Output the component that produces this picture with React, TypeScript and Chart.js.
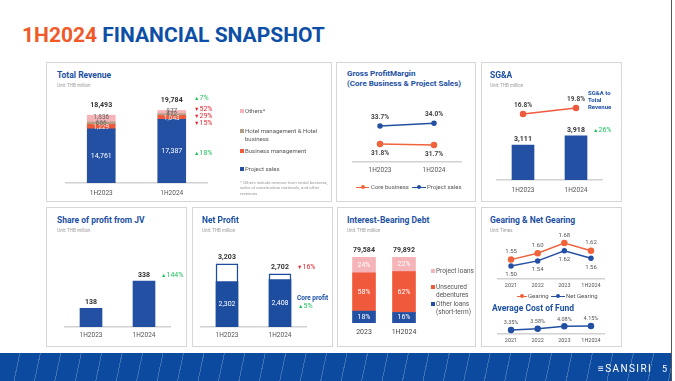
import React, { useEffect, useRef } from "react";
import { Chart, registerables } from "chart.js";

Chart.register(...registerables);

// ---------------- DATA ----------------
const halfYears = ["1H2023", "1H2024"];
const revProject = [14761, 17387];
const revBizMgmt = [1229, 1043];
const revHotel = [666, 472];
const revOthers = [1836, 877];
const revTotal = [18493, 19784];
const revChangeText = ["7%", "52%", "29%", "15%", "18%"];
const revChangeUp = [true, false, false, false, true];

const gpmCore = [31.8, 31.7];
const gpmProject = [33.7, 34.0];

const sgaValues = [3111, 3918];
const sgaRatio = [16.8, 19.8];
const sgaChange = "26%";

const jvProfit = [138, 338];
const jvChange = "144%";

const netProfit = [3203, 2702];
const coreProfit = [2302, 2408];
const netChange = "16%";
const coreChange = "5%";

const debtPeriods = ["2023", "1H2024"];
const debtTotal = [79584, 79892];
const debtOther = [18, 16];
const debtUnsecured = [58, 62];
const debtProject = [24, 22];

const gearYears = ["2021", "2022", "2023", "1H2024"];
const gearing = [1.55, 1.6, 1.68, 1.62];
const netGearing = [1.5, 1.54, 1.62, 1.56];
const costOfFund = [3.35, 3.58, 4.08, 4.15];

// ---------------- STYLE ----------------
const FONT = "Roboto, 'Noto Sans', Arial, sans-serif";
const BLUE = "#2350a3";
const DBLUE = "#1d4d9f";
const NAVY = "#1c50a2";
const ORANGE = "#f05a3c";
const PINK = "#f5b4b8";
const TAN = "#b3a084";
const GREEN = "#22c25e";
const RED = "#e3252c";
const AXIS = "#d2d2d2";

const fmt = (v: number) => v.toLocaleString("en-US");
const pct1 = (v: number) => v.toFixed(1) + "%";
const pct2 = (v: number) => v.toFixed(2) + "%";

type Box = { l: number; t: number; w: number; h: number };
type LabelSpec = {
  ds: number;
  texts: string[];
  pos: "center" | "top";
  dy: number;
  color: string;
  size: number;
  bold?: boolean;
};

function labelPlugin(specs: LabelSpec[]) {
  return {
    id: "vlabels",
    afterDatasetsDraw(chart: any) {
      const ctx = chart.ctx;
      ctx.save();
      ctx.textAlign = "center";
      ctx.textBaseline = "middle";
      for (const s of specs) {
        const meta = chart.getDatasetMeta(s.ds);
        meta.data.forEach((el: any, i: number) => {
          const y = s.pos === "center" ? (el.y + el.base) / 2 : el.y;
          ctx.font = `${s.bold ? "bold " : ""}${s.size}px ${FONT}`;
          ctx.fillStyle = s.color;
          ctx.fillText(s.texts[i], el.x, y + s.dy);
        });
      }
      ctx.restore();
    },
  };
}

function xScale(o: { pad: number; h: number; line?: boolean; size?: number; color?: string; stacked?: boolean }) {
  return {
    type: "category",
    stacked: !!o.stacked,
    offset: true,
    grid: { display: false, drawTicks: false },
    border: { display: o.line !== false, color: AXIS, width: 1.5 },
    ticks: {
      font: { family: FONT, size: o.size ?? 6.5 },
      color: o.color ?? "#555",
      padding: o.pad,
      maxRotation: 0,
      autoSkip: false,
    },
    afterFit: (s: any) => {
      s.height = o.h;
    },
  };
}

function baseOpts(padding: any, scales: any) {
  return {
    responsive: false,
    animation: false,
    events: [],
    layout: { padding },
    plugins: { legend: { display: false }, tooltip: { enabled: false } },
    scales,
  };
}

function ChartCanvas({ box, config }: { box: Box; config: () => any }) {
  const ref = useRef<HTMLCanvasElement | null>(null);
  useEffect(() => {
    const chart = new Chart(ref.current as HTMLCanvasElement, config());
    return () => chart.destroy();
  }, []);
  return (
    <canvas
      ref={ref}
      width={box.w}
      height={box.h}
      style={{ position: "absolute", left: box.l, top: box.t, width: box.w, height: box.h }}
    />
  );
}

// ---------------- CHART CONFIGS ----------------
const revenueConfig = () => ({
  type: "bar",
  data: {
    labels: halfYears,
    datasets: [
      { label: "Project sales", data: revProject, backgroundColor: BLUE, barThickness: 28 },
      { label: "Business management", data: revBizMgmt, backgroundColor: ORANGE, barThickness: 28 },
      { label: "Hotel management & Hotel business", data: revHotel, backgroundColor: TAN, barThickness: 28 },
      { label: "Others*", data: revOthers, backgroundColor: PINK, barThickness: 28 },
    ],
  },
  options: baseOpts(
    { left: 20, right: 9, top: 33, bottom: 0 },
    {
      x: xScale({ pad: 6, h: 19, stacked: true }),
      y: { display: false, stacked: true, min: 0, max: 24000 },
    }
  ),
  plugins: [
    labelPlugin([
      { ds: 0, texts: revProject.map(fmt), pos: "center", dy: 0, color: "#ffffff", size: 7 },
      { ds: 1, texts: revBizMgmt.map(fmt), pos: "center", dy: 1, color: "#eeeeee", size: 6.5 },
      { ds: 2, texts: revHotel.map(fmt), pos: "center", dy: 0, color: "#666666", size: 6.5 },
      { ds: 3, texts: revOthers.map(fmt), pos: "center", dy: -1, color: "#666666", size: 6.5 },
      { ds: 3, texts: revTotal.map(fmt), pos: "top", dy: -10, color: "#333333", size: 7, bold: true },
    ]),
  ],
});

const gpmConfig = () => ({
  type: "line",
  data: {
    labels: halfYears,
    datasets: [
      {
        label: "Core business",
        data: gpmCore,
        borderColor: "#f0643c",
        backgroundColor: "#f0643c",
        borderWidth: 1.5,
        pointRadius: 2.5,
      },
      {
        label: "Project sales",
        data: gpmProject,
        borderColor: BLUE,
        backgroundColor: BLUE,
        borderWidth: 1.5,
        pointRadius: 2,
      },
    ],
  },
  options: baseOpts(
    { left: 17, right: 15, top: 38, bottom: 0 },
    {
      x: xScale({ pad: 4, h: 16 }),
      y: { display: false, min: 29.9, max: 36.45 },
    }
  ),
  plugins: [
    labelPlugin([
      { ds: 0, texts: gpmCore.map(pct1), pos: "top", dy: 9, color: "#444", size: 6.5, bold: true },
      { ds: 1, texts: gpmProject.map(pct1), pos: "top", dy: -9, color: "#444", size: 6.5, bold: true },
    ]),
  ],
});

const sgaConfig = () => ({
  type: "bar",
  data: {
    labels: halfYears,
    datasets: [
      {
        type: "line",
        label: "SG&A to Total Revenue",
        data: sgaRatio,
        yAxisID: "y1",
        borderColor: ORANGE,
        backgroundColor: ORANGE,
        borderWidth: 1.5,
        pointRadius: 2.5,
      },
      { label: "SG&A", data: sgaValues, yAxisID: "y", backgroundColor: BLUE, barThickness: 22 },
    ],
  },
  options: baseOpts(
    { left: 15.5, right: 19.5, top: 33, bottom: 0 },
    {
      x: xScale({ pad: 6, h: 18 }),
      y: { display: false, min: 0, max: 7556 },
      y1: { display: false, min: -16.2, max: 26.3 },
    }
  ),
  plugins: [
    labelPlugin([
      { ds: 1, texts: sgaValues.map(fmt), pos: "top", dy: -6, color: "#333", size: 7, bold: true },
      { ds: 0, texts: sgaRatio.map(pct1), pos: "top", dy: -9, color: "#444", size: 6.5, bold: true },
    ]),
  ],
});

const jvConfig = () => ({
  type: "bar",
  data: {
    labels: halfYears,
    datasets: [{ label: "Share of profit from JV", data: jvProfit, backgroundColor: BLUE, barThickness: 22 }],
  },
  options: baseOpts(
    { left: 18.5, right: 16.5, top: 43, bottom: 0 },
    {
      x: xScale({ pad: 4, h: 16 }),
      y: { display: false, min: 0, max: 566 },
    }
  ),
  plugins: [
    labelPlugin([{ ds: 0, texts: jvProfit.map(fmt), pos: "top", dy: -6, color: "#333", size: 7, bold: true }]),
  ],
});

const netConfig = () => ({
  type: "bar",
  data: {
    labels: halfYears,
    datasets: [
      { label: "Core profit", data: coreProfit, backgroundColor: DBLUE, barThickness: 22, grouped: false },
      {
        label: "Net profit",
        data: netProfit,
        backgroundColor: "#ffffff",
        borderColor: DBLUE,
        borderWidth: 1.5,
        borderSkipped: false,
        barThickness: 22,
        grouped: false,
      },
    ],
  },
  options: baseOpts(
    { left: 8.5, right: 26.5, top: 43, bottom: 0 },
    {
      x: xScale({ pad: 4, h: 16 }),
      y: { display: false, min: 0, max: 3909 },
    }
  ),
  plugins: [
    labelPlugin([
      { ds: 1, texts: netProfit.map(fmt), pos: "top", dy: -7, color: "#333", size: 7, bold: true },
      { ds: 0, texts: coreProfit.map(fmt), pos: "center", dy: 0, color: "#ffffff", size: 7 },
    ]),
  ],
});

const debtConfig = () => ({
  type: "bar",
  data: {
    labels: debtPeriods,
    datasets: [
      { label: "Other loans (short-term)", data: debtOther, backgroundColor: BLUE, barThickness: 23 },
      { label: "Unsecured debentures", data: debtUnsecured, backgroundColor: ORANGE, barThickness: 23 },
      { label: "Project loans", data: debtProject, backgroundColor: PINK, barThickness: 23 },
    ],
  },
  options: baseOpts(
    { left: 7, right: 52, top: 50, bottom: 0 },
    {
      x: xScale({ pad: 5, h: 16, line: false, size: 7, color: "#444", stacked: true }),
      y: { display: false, stacked: true, min: 0, max: 100 },
    }
  ),
  plugins: [
    labelPlugin([
      { ds: 0, texts: debtOther.map((v) => v + "%"), pos: "center", dy: 0, color: "#fff", size: 7 },
      { ds: 1, texts: debtUnsecured.map((v) => v + "%"), pos: "center", dy: 0, color: "#fff", size: 7 },
      { ds: 2, texts: debtProject.map((v) => v + "%"), pos: "center", dy: 0, color: "#fff", size: 7 },
      { ds: 2, texts: debtTotal.map(fmt), pos: "top", dy: -7, color: "#333", size: 7, bold: true },
    ]),
  ],
});

const gearingConfig = () => ({
  type: "line",
  data: {
    labels: gearYears,
    datasets: [
      {
        label: "Gearing",
        data: gearing,
        borderColor: "#f0643c",
        backgroundColor: "#f0643c",
        borderWidth: 1.5,
        pointRadius: 2.5,
      },
      {
        label: "Net Gearing",
        data: netGearing,
        borderColor: BLUE,
        backgroundColor: BLUE,
        borderWidth: 1.5,
        pointRadius: 2,
      },
    ],
  },
  options: baseOpts(
    { left: 16.7, right: 17.7, top: 28, bottom: 0 },
    {
      x: xScale({ pad: 3, h: 14, size: 5.5 }),
      y: { display: false, min: 1.398, max: 1.743 },
    }
  ),
  plugins: [
    labelPlugin([
      { ds: 0, texts: gearing.map((v) => v.toFixed(2)), pos: "top", dy: -8, color: "#555", size: 6 },
      { ds: 1, texts: netGearing.map((v) => v.toFixed(2)), pos: "top", dy: 9, color: "#555", size: 6 },
    ]),
  ],
});

const cofConfig = () => ({
  type: "line",
  data: {
    labels: gearYears,
    datasets: [
      {
        label: "Average Cost of Fund",
        data: costOfFund,
        borderColor: BLUE,
        backgroundColor: BLUE,
        borderWidth: 1.5,
        pointRadius: 2.5,
      },
    ],
  },
  options: baseOpts(
    { left: 16.7, right: 17.7, top: 8, bottom: 0 },
    {
      x: xScale({ pad: 3, h: 13, size: 5.5 }),
      y: { display: false, min: 2.55, max: 5.35 },
    }
  ),
  plugins: [
    labelPlugin([{ ds: 0, texts: costOfFund.map(pct2), pos: "top", dy: -7, color: "#555", size: 5.5 }]),
  ],
});

// ---------------- HTML HELPERS ----------------
function T(props: {
  x: number;
  y: number;
  s: number;
  c?: string;
  b?: boolean;
  ls?: number;
  children: any;
}) {
  return (
    <div
      style={{
        position: "absolute",
        left: props.x,
        top: props.y,
        fontSize: props.s,
        color: props.c ?? "#555",
        fontWeight: props.b ? 700 : 400,
        lineHeight: 1,
        whiteSpace: "nowrap",
        transform: "translateY(-50%)",
        fontFamily: FONT,
        letterSpacing: props.ls,
      }}
    >
      {props.children}
    </div>
  );
}

function Sq({ x, y, c }: { x: number; y: number; c: string }) {
  return <div style={{ position: "absolute", left: x, top: y - 2, width: 4, height: 4, background: c }} />;
}

function LineMark({ x, y, w, c }: { x: number; y: number; w: number; c: string }) {
  return (
    <>
      <div style={{ position: "absolute", left: x, top: y - 0.5, width: w, height: 1.2, background: c }} />
      <div
        style={{
          position: "absolute",
          left: x + w / 2 - 2,
          top: y - 2,
          width: 4,
          height: 4,
          borderRadius: 2,
          background: c,
        }}
      />
    </>
  );
}

function Panel({ l, t, r, b }: { l: number; t: number; r: number; b: number }) {
  return (
    <div
      style={{
        position: "absolute",
        left: l,
        top: t,
        width: r - l,
        height: b - t,
        border: "1.5px solid #d6d6d6",
        boxSizing: "border-box",
      }}
    />
  );
}

function Chg({ x, y, up, text }: { x: number; y: number; up: boolean; text: string }) {
  const c = up ? GREEN : RED;
  return (
    <T x={x} y={y} s={7} c={c}>
      <span style={{ fontSize: 5.5 }}>{up ? "▲" : "▼"}</span>
      {text}
    </T>
  );
}

export default function App() {
  useEffect(() => {
    document.body.style.margin = "0";
  }, []);
  return (
    <div
      style={{
        position: "fixed",
        left: 0,
        top: 0,
        width: 675,
        height: 381,
        background: "#ffffff",
        overflow: "hidden",
        fontFamily: FONT,
      }}
    >
      {/* Title */}
      <T x={22} y={35} s={21} b c="#0d4fa6">
        <span style={{ color: "#f05a28" }}>1H2024</span> FINANCIAL SNAPSHOT
      </T>

      {/* Panels */}
      <Panel l={46} t={62} r={332} b={202} />
      <Panel l={336} t={62} r={476} b={202} />
      <Panel l={481} t={62} r={622} b={202} />
      <Panel l={46} t={207} r={187} b={347} />
      <Panel l={192} t={207} r={333} b={347} />
      <Panel l={337} t={207} r={476} b={347} />
      <Panel l={481} t={207} r={622} b={347} />

      {/* Panel 1: Total Revenue */}
      <T x={57} y={75} s={8.5} b c={NAVY}>Total Revenue</T>
      <T x={57} y={86} s={4.5} c="#999">Unit: THB million</T>
      <ChartCanvas box={{ l: 46, t: 62, w: 170, h: 140 }} config={revenueConfig} />
      <Chg x={194} y={98} up={revChangeUp[0]} text={revChangeText[0]} />
      <Chg x={194} y={109} up={revChangeUp[1]} text={revChangeText[1]} />
      <Chg x={194} y={116} up={revChangeUp[2]} text={revChangeText[2]} />
      <Chg x={194} y={123} up={revChangeUp[3]} text={revChangeText[3]} />
      <Chg x={194} y={153} up={revChangeUp[4]} text={revChangeText[4]} />
      <Sq x={240} y={111} c={PINK} />
      <T x={245} y={111} s={6}>Others*</T>
      <Sq x={240} y={131} c={TAN} />
      <T x={245} y={131} s={6}>Hotel management &amp; Hotel</T>
      <T x={245} y={138.5} s={6}>business</T>
      <Sq x={240} y={151} c={ORANGE} />
      <T x={245} y={151} s={6}>Business management</T>
      <Sq x={240} y={169} c={BLUE} />
      <T x={245} y={169} s={6}>Project sales</T>
      <div
        style={{
          position: "absolute",
          left: 240,
          top: 180,
          width: 88,
          fontSize: 4.3,
          lineHeight: "5.3px",
          color: "#999",
          fontFamily: FONT,
        }}
      >
        * Others include revenue from rental business, sales of construction materials, and other revenues
      </div>

      {/* Panel 2: Gross Profit Margin */}
      <T x={347} y={74} s={8} b c={NAVY}>Gross ProfitMargin</T>
      <T x={347} y={84} s={8} b c={NAVY}>(Core Business &amp; Project Sales)</T>
      <ChartCanvas box={{ l: 336, t: 62, w: 140, h: 116 }} config={gpmConfig} />
      <LineMark x={356} y={187} w={13} c="#f0643c" />
      <T x={371} y={187} s={6}>Core business</T>
      <LineMark x={412} y={187} w={14} c={BLUE} />
      <T x={427} y={187} s={6}>Project sales</T>

      {/* Panel 3: SG&A */}
      <T x={490} y={75} s={8.5} b c={NAVY}>SG&amp;A</T>
      <T x={490} y={86} s={4.5} c="#999">Unit: THB million</T>
      <ChartCanvas box={{ l: 481, t: 62, w: 141, h: 136 }} config={sgaConfig} />
      <T x={588} y={93} s={6} b c={NAVY}>SG&amp;A to</T>
      <T x={588} y={100} s={6} b c={NAVY}>Total</T>
      <T x={588} y={107} s={6} b c={NAVY}>Revenue</T>
      <Chg x={593} y={130} up={true} text={sgaChange} />

      {/* Panel 4: JV */}
      <T x={57} y={220} s={8.5} b c={NAVY}>Share of profit from JV</T>
      <T x={57} y={231} s={4.5} c="#999">Unit: THB million</T>
      <ChartCanvas box={{ l: 46, t: 207, w: 141, h: 136 }} config={jvConfig} />
      <Chg x={161} y={275} up={true} text={jvChange} />

      {/* Panel 5: Net Profit */}
      <T x={202} y={220} s={8.5} b c={NAVY}>Net Profit</T>
      <T x={202} y={231} s={4.5} c="#999">Unit: THB million</T>
      <ChartCanvas box={{ l: 192, t: 207, w: 141, h: 136 }} config={netConfig} />
      <Chg x={297} y={267} up={false} text={netChange} />
      <T x={297} y={298} s={6.5} b c={NAVY}>Core profit</T>
      <Chg x={298} y={306} up={true} text={coreChange} />

      {/* Panel 6: Interest-Bearing Debt */}
      <T x={347} y={220} s={8.5} b c={NAVY}>Interest-Bearing Debt</T>
      <T x={347} y={231} s={4.5} c="#999">Unit: THB million</T>
      <ChartCanvas box={{ l: 337, t: 207, w: 139, h: 132 }} config={debtConfig} />
      <Sq x={431} y={271} c={PINK} />
      <T x={436} y={271} s={6.5}>Project loans</T>
      <Sq x={431} y={287} c={ORANGE} />
      <T x={436} y={287} s={6.5}>Unsecured</T>
      <T x={436} y={295} s={6.5}>debentures</T>
      <Sq x={431} y={304} c={BLUE} />
      <T x={436} y={304} s={6.5}>Other loans</T>
      <T x={436} y={312} s={6.5}>(short-term)</T>

      {/* Panel 7: Gearing */}
      <T x={490} y={220} s={8.5} b c={NAVY}>Gearing &amp; Net Gearing</T>
      <T x={490} y={231} s={4.5} c="#999">Unit: Times</T>
      <ChartCanvas box={{ l: 481, t: 207, w: 141, h: 86 }} config={gearingConfig} />
      <LineMark x={517} y={296} w={10} c="#f0643c" />
      <T x={528} y={296} s={6}>Gearing</T>
      <LineMark x={551} y={296} w={14} c={BLUE} />
      <T x={566} y={296} s={6}>Net Gearing</T>
      <T x={492} y={308} s={8.5} b c={NAVY}>Average Cost of Fund</T>
      <ChartCanvas box={{ l: 481, t: 312, w: 141, h: 35 }} config={cofConfig} />

      {/* Footer */}
      <div
        style={{
          position: "absolute",
          left: 0,
          top: 353,
          width: 671,
          height: 28,
          background:
            "repeating-linear-gradient(102deg, rgba(255,255,255,0) 0px, rgba(255,255,255,0) 19px, rgba(255,255,255,0.22) 19px, rgba(255,255,255,0.22) 20px), #0c4a9f",
        }}
      />
      <T x={598} y={369} s={10} c="#ffffff" ls={1.4}>≡SANSIRI</T>
      <T x={662} y={369} s={9} c="#ffffff">5</T>
      <div style={{ position: "absolute", left: 671, top: 0, width: 1, height: 381, background: "#555" }} />
    </div>
  );
}
